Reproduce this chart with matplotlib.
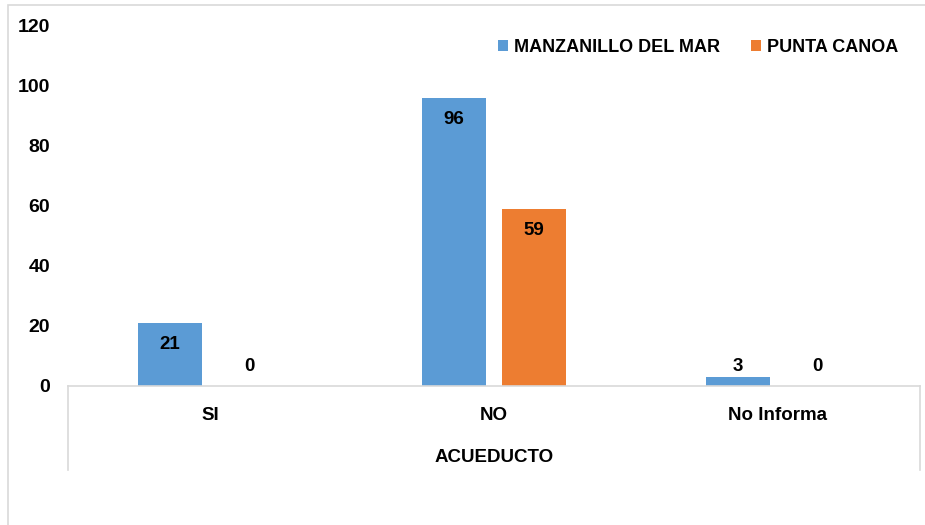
import matplotlib.pyplot as plt
from matplotlib.lines import Line2D
from matplotlib.patches import Rectangle

# data
categorias = ["SI", "NO", "No Informa"]
manzanillo = [21, 96, 3]
punta_canoa = [0, 59, 0]
series_names = ["MANZANILLO DEL MAR", "PUNTA CANOA"]
eje_titulo = "ACUEDUCTO"

plt.rcParams['font.family'] = ['Liberation Sans', 'DejaVu Sans']
plt.rcParams['font.weight'] = 'bold'

W, H = 925, 525
fig = plt.figure(figsize=(W / 100, H / 100), dpi=100)

# outer (cropped) chart border
fig.patches.append(Rectangle((8 / W, -0.1), 1.2, 1 - 5 / H + 0.1, transform=fig.transFigure,
                             fill=False, edgecolor='#d9d9d9', linewidth=1.2))

ax = fig.add_axes([68 / W, 1 - 386 / H, (920 - 68) / W, (386 - 26) / H])

x = list(range(len(categorias)))
w = 0.225
off = 0.14
b1 = ax.bar([i - off for i in x], manzanillo, w, color='#5B9BD5', label=series_names[0])
b2 = ax.bar([i + off for i in x], punta_canoa, w, color='#ED7D31', label=series_names[1])

# value labels
for bars, vals in ((b1, manzanillo), (b2, punta_canoa)):
    for rect, v in zip(bars, vals):
        cx = rect.get_x() + rect.get_width() / 2
        if v >= 10:
            ax.annotate(str(v), (cx, v), xytext=(0, -15.5), textcoords='offset points',
                        ha='center', va='center', fontsize=13.5, fontweight='bold')
        else:
            ax.annotate(str(v), (cx, 0), xytext=(0, 14), textcoords='offset points',
                        ha='center', va='center', fontsize=13.5, fontweight='bold')

ax.set_xlim(-0.5, 2.5)
ax.set_ylim(0, 120)
ax.set_yticks(range(0, 121, 20))
ax.set_xticks([])
ax.tick_params(axis='y', length=0, labelsize=14, pad=13)
for lab in ax.get_yticklabels():
    lab.set_fontweight('bold')
for s in ('top', 'right', 'left'):
    ax.spines[s].set_visible(False)
ax.spines['bottom'].set_color('#d9d9d9')
ax.spines['bottom'].set_linewidth(1.2)

# category labels and axis title below the plot
for i, c in enumerate(categorias):
    ax.annotate(c, (i, 0), xytext=(0, -21.5), textcoords='offset points',
                ha='center', va='center', fontsize=13.5, fontweight='bold')
fig.text((68 + 920) / 2 / W, 1 - 458 / H, eje_titulo, ha='center', va='center',
         fontsize=13.5, fontweight='bold')

# category axis side lines
for px in (68, 920):
    fig.add_artist(Line2D([px / W, px / W], [1 - 386 / H, 1 - 470 / H], color='#d9d9d9',
                          linewidth=1.2, transform=fig.transFigure))

leg = ax.legend(loc='center right', bbox_to_anchor=(1.0 - 11 / 852, (386 - 47) / 360), ncol=2,
                frameon=False, fontsize=13, handlelength=0.55, handleheight=0.55,
                handletextpad=0.35, columnspacing=1.7, borderaxespad=0.2)
for t in leg.get_texts():
    t.set_fontweight('bold')

fig.savefig('out.png', dpi=100)
